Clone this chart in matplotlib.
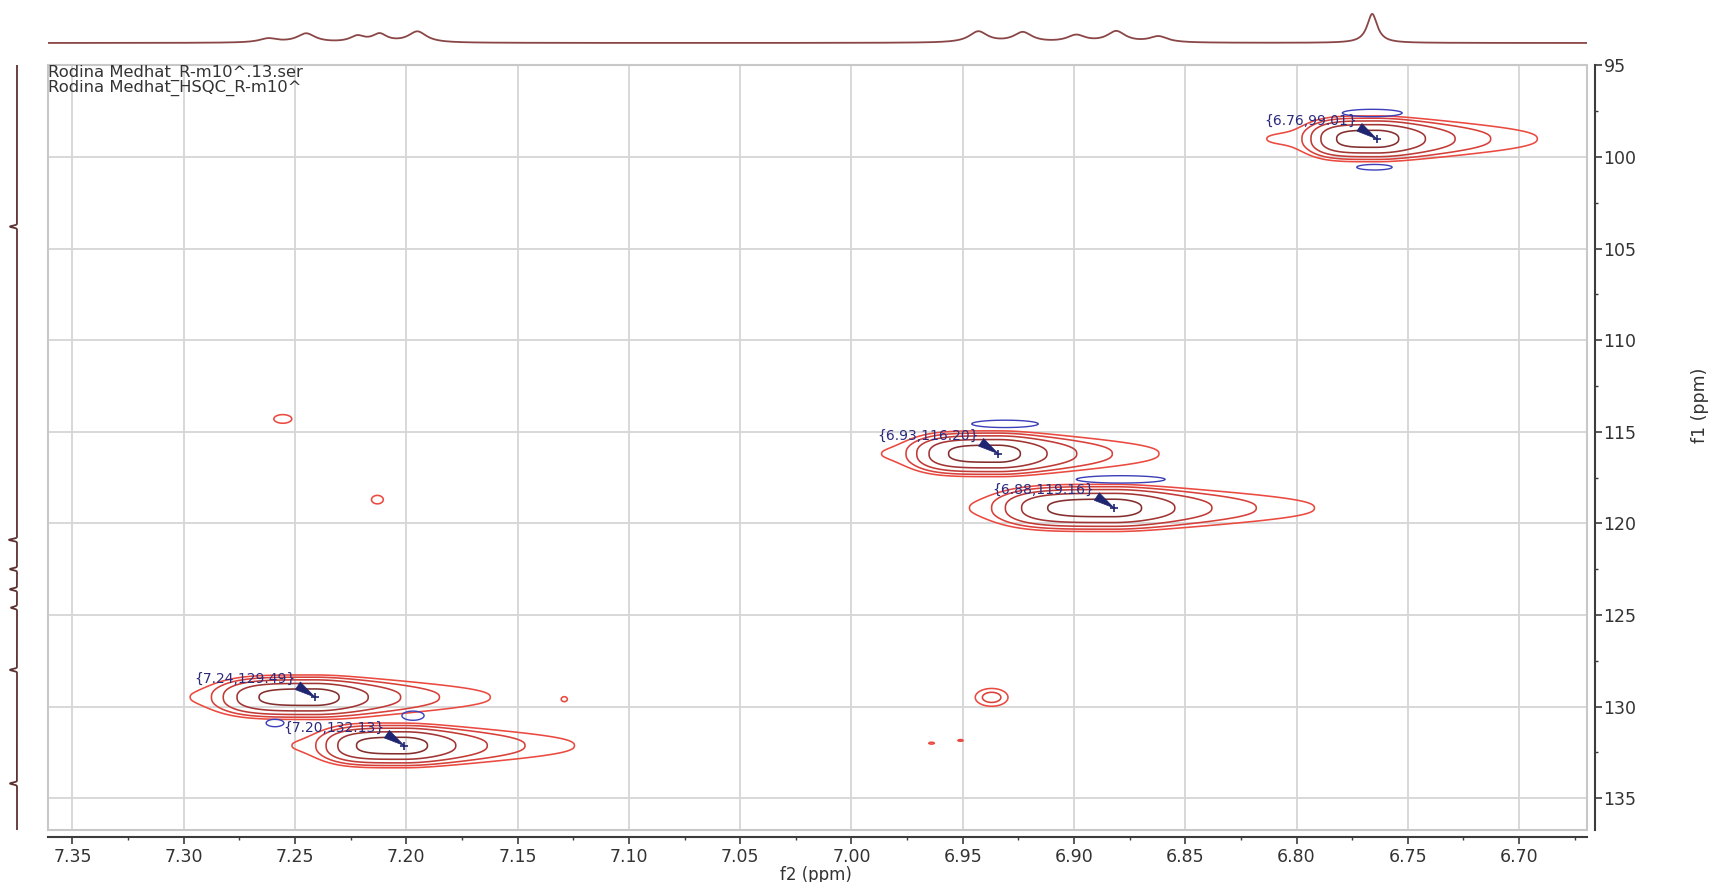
import numpy as np
import matplotlib
matplotlib.use("Agg")
import matplotlib.pyplot as plt
from matplotlib.patches import Rectangle
from matplotlib.ticker import MultipleLocator, FormatStrFormatter

# ---------------- data ----------------
f2_range = (7.361, 6.6695)
f1_range = (94.98, 136.74)

peak_f2 = [6.764, 6.934, 6.882, 7.241, 7.201]
peak_f1 = [99.01, 116.20, 119.16, 129.49, 132.13]
peak_labels = ["{6.76,99.01}", "{6.93,116.20}", "{6.88,119.16}", "{7.24,129.49}", "{7.20,132.13}"]
peak_amp = [1.0, 1.0, 1.0, 1.0, 1.0]
peak_sl = [0.0256, 0.0319, 0.0427, 0.036, 0.0305]     # left (high ppm) width, f2
peak_wl = [0.0754, 0.079, 0.090, 0.081, 0.076]        # left weak tail width
peak_wr = [0.0198, 0.0198, 0.0247, 0.0216, 0.021]     # right (low ppm) tail width
peak_sy = [0.845, 0.845, 0.87, 0.82, 0.82]            # f1 width

# small positive features
blob_f2 = [7.2555, 7.213, 7.129, 6.937, 6.964, 6.951]
blob_f1 = [114.3, 118.7, 129.6, 129.5, 132.0, 131.85]
blob_amp = [0.11, 0.10, 0.08, 0.17, 0.075, 0.075]
blob_sx = [0.006, 0.004, 0.0015, 0.0075, 0.003, 0.003]
blob_sy = [0.35, 0.35, 0.15, 0.5, 0.12, 0.12]

# negative (blue) features
neg_f2 = [6.766, 6.765, 6.931, 6.879, 7.259, 7.197]
neg_f1 = [97.6, 100.56, 114.57, 117.6, 130.9, 130.5]
neg_sx = [0.0135, 0.008, 0.015, 0.020, 0.004, 0.005]
neg_sy = [0.2, 0.15, 0.2, 0.2, 0.2, 0.25]

# 1D projections
top_ppm = [7.262, 7.245, 7.222, 7.212, 7.195, 6.943, 6.923, 6.899, 6.881, 6.862, 6.766]
top_height = [4, 9, 6, 8, 11, 11, 10, 7, 11, 6, 29]
top_hw = [0.005, 0.005, 0.004, 0.004, 0.005, 0.005, 0.005, 0.005, 0.005, 0.005, 0.0028]
left_ppm = [103.8, 120.9, 122.5, 123.6, 124.6, 128.0, 134.2]
left_height = [7, 8, 7, 7, 6, 7, 7]

levels = [0.07, 0.13, 0.24, 0.45, 0.8]
level_colors = ["#ea4a40", "#d8403a", "#c03a36", "#a23434", "#842e2e"]

# ---------------- figure ----------------
W, H = 1717, 882
fig = plt.figure(figsize=(W / 100, H / 100), dpi=100)
plt.rcParams["font.family"] = ["DejaVu Sans"]


def px_axes(x0, y0, x1, y1):
    return fig.add_axes([x0 / W, 1 - y1 / H, (x1 - x0) / W, (y1 - y0) / H])


ax = px_axes(48, 65, 1587, 830)
ax.set_xlim(*f2_range)
ax.set_ylim(f1_range[1], f1_range[0])

xs = np.linspace(f2_range[0], f2_range[1], 1700)
ys = np.linspace(f1_range[0], f1_range[1], 900)
XX, YY = np.meshgrid(xs, ys)

Z = np.zeros_like(XX)
for f2, f1, a, sl, wl, wr, sy in zip(peak_f2, peak_f1, peak_amp, peak_sl, peak_wl, peak_wr, peak_sy):
    dx = f2 - XX          # >0 : right of the peak (lower ppm)
    dy = YY - f1
    b = 0.1
    xl = (1 - b) * np.exp(-(np.abs(dx) / sl) ** 4) + b / (1 + (dx / wl) ** 2)
    xr = 1 / (1 + (dx / wr) ** 2)
    xp = np.where(dx < 0, xl, xr)
    yp = np.exp(-np.abs(dy / sy) ** 2.5)
    Z += a * xp * yp
for f2, f1, a, sx, sy in zip(blob_f2, blob_f1, blob_amp, blob_sx, blob_sy):
    Z += a * np.exp(-((XX - f2) / sx) ** 2 - ((YY - f1) / sy) ** 2)

ZN = np.zeros_like(XX)
for f2, f1, sx, sy in zip(neg_f2, neg_f1, neg_sx, neg_sy):
    ZN -= 0.19 * np.exp(-((XX - f2) / sx) ** 2 - ((YY - f1) / sy) ** 2)

ax.contour(XX, YY, Z, levels=levels, colors=level_colors, linewidths=1.15, zorder=3)
ax.contour(XX, YY, ZN, levels=[-0.07], colors=["#3b3fb8"], linewidths=1.0,
           linestyles="solid", zorder=3)

for f2, f1, lab in zip(peak_f2, peak_f1, peak_labels):
    ax.plot([f2], [f1], marker="+", ms=6, mew=1.2, color="#1f2570", zorder=5)
    ax.annotate(lab, xy=(f2, f1), xytext=(-20, 18), textcoords="offset pixels",
                ha="right", va="center", fontsize=10, color="#2b2b7e", zorder=6,
                arrowprops=dict(arrowstyle="wedge,tail_width=0.65", color="#1f2570",
                                relpos=(0.97, 0.3), shrinkA=0, shrinkB=0, lw=0.5))

# axes cosmetics
ax.xaxis.set_major_locator(MultipleLocator(0.05))
ax.xaxis.set_minor_locator(MultipleLocator(0.025))
ax.xaxis.set_major_formatter(FormatStrFormatter("%.2f"))
ax.yaxis.set_major_locator(MultipleLocator(5))
ax.yaxis.set_minor_locator(MultipleLocator(2.5))
ax.yaxis.set_major_formatter(FormatStrFormatter("%d"))
ax.yaxis.tick_right()
ax.xaxis.tick_bottom()
ax.grid(True, which="major", color="#d6d6d6", lw=1.3, zorder=0)
ax.set_axisbelow(True)
for s in ["top", "left"]:
    ax.spines[s].set_visible(False)
ax.spines["bottom"].set_position(("outward", 5))
ax.spines["right"].set_position(("outward", 5.8))
for s in ["bottom", "right"]:
    ax.spines[s].set_color("#3c3c3c")
    ax.spines[s].set_linewidth(1.5)
ax.tick_params(axis="both", which="major", length=5, width=1.2, color="#3c3c3c",
               labelsize=12.5, labelcolor="#333333", direction="out")
ax.tick_params(axis="x", which="major", pad=3)
ax.tick_params(axis="y", which="major", pad=1)
ax.tick_params(axis="both", which="minor", length=2.5, width=1.0, color="#3c3c3c", direction="out")
ax.add_patch(Rectangle((0, 0), 1, 1, transform=ax.transAxes, fill=False,
                       edgecolor="#c8c8c8", lw=1.5, clip_on=False, zorder=1))

fig.text(48 / W, 1 - 73 / H, "Rodina Medhat_R-m10^.13.ser", fontsize=11.8, va="center", color="#333333")
fig.text(48 / W, 1 - 88 / H, "Rodina Medhat_HSQC_R-m10^", fontsize=11.8, va="center", color="#333333")
fig.text(816 / W, 1 - 875 / H, "f2 (ppm)", fontsize=12, ha="center", va="center", color="#333333")
fig.text(1700 / W, 1 - 405 / H, "f1 (ppm)", fontsize=12.5, ha="center", va="center", rotation=90, color="#333333")

# top projection
axt = px_axes(48, 0, 1587, 64)
axt.set_xlim(*f2_range)
axt.set_ylim(-21 / 30, 43 / 30)
axt.axis("off")
xt = np.linspace(f2_range[0], f2_range[1], 3000)
yt = np.zeros_like(xt)
for p, h, w in zip(top_ppm, top_height, top_hw):
    yt += (h / 30) / (1 + ((xt - p) / w) ** 2)
axt.plot(xt, yt, color="#8a4646", lw=1.3)

# left projection
axl = px_axes(0, 65, 48, 830)
axl.set_ylim(f1_range[1], f1_range[0])
axl.set_xlim(17 / 7, -31 / 7)
axl.axis("off")
yl = np.linspace(f1_range[0], f1_range[1], 4000)
xl_ = np.zeros_like(yl)
for p, h in zip(left_ppm, left_height):
    xl_ += (h / 7) * np.exp(-((yl - p) / 0.07) ** 2)
axl.plot(xl_, yl, color="#5e3232", lw=1.3)

fig.savefig("out.png", dpi=100)
